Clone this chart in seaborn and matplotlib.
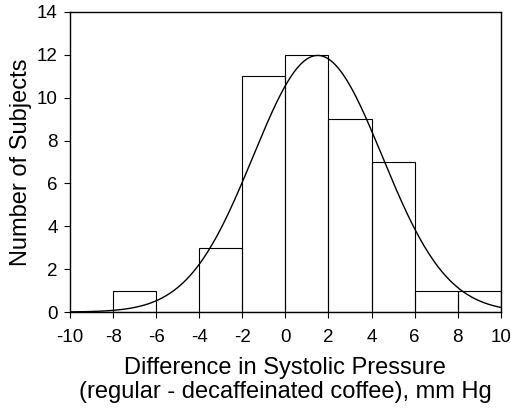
import numpy as np
import pandas as pd
import matplotlib
matplotlib.use("Agg")
import matplotlib.pyplot as plt
import seaborn as sns

# Histogram data (bin edges and counts)
bin_edges = [-10, -8, -6, -4, -2, 0, 2, 4, 6, 8, 10]
counts = [0, 1, 0, 3, 11, 12, 9, 7, 1, 1]
# Fitted normal curve parameters
fit_mean = 1.5
fit_sd = 3.0
n_subjects = sum(counts)
bin_width = 2

x_ticks = [-10, -8, -6, -4, -2, 0, 2, 4, 6, 8, 10]
y_ticks = [0, 2, 4, 6, 8, 10, 12, 14]

sns.set_style("ticks")
plt.rcParams['font.family'] = ['Liberation Sans', 'DejaVu Sans']
plt.rcParams['axes.unicode_minus'] = False
plt.rcParams['text.color'] = 'black'
plt.rcParams['axes.labelcolor'] = 'black'
plt.rcParams['xtick.color'] = 'black'
plt.rcParams['ytick.color'] = 'black'

fig = plt.figure(figsize=(5.11, 4.09), dpi=100)
ax = fig.add_axes([0.137, 0.237, 0.843, 0.734])

centers = [(bin_edges[i] + bin_edges[i + 1]) / 2 for i in range(len(counts))]
df = pd.DataFrame({"x": centers, "w": counts})
sns.histplot(data=df, x="x", weights="w", bins=bin_edges, fill=False,
             color="black", linewidth=0.8, ax=ax)

xs = np.linspace(-10, 10, 400)
ys = n_subjects * bin_width / (fit_sd * np.sqrt(2 * np.pi)) * np.exp(-(xs - fit_mean) ** 2 / (2 * fit_sd ** 2))
sns.lineplot(x=xs, y=ys, color="black", linewidth=1.0, ax=ax)

ax.set_xlim(-10, 10)
ax.set_ylim(0, 14)
ax.set_xticks(x_ticks)
ax.set_yticks(y_ticks)
ax.tick_params(labelsize=13.5, length=4, width=0.8, direction="out")
ax.tick_params(axis="x", pad=8)
ax.tick_params(axis="y", pad=5)
for s in ax.spines.values():
    s.set_visible(True)
    s.set_linewidth(1.0)
    s.set_color("black")
ax.set_xlabel("Difference in Systolic Pressure\n(regular - decaffeinated coffee), mm Hg",
              fontsize=17, linespacing=1.15)
ax.set_ylabel("Number of Subjects", fontsize=17)
ax.xaxis.labelpad = 8
ax.yaxis.labelpad = 3

fig.savefig("out.png", dpi=100)
